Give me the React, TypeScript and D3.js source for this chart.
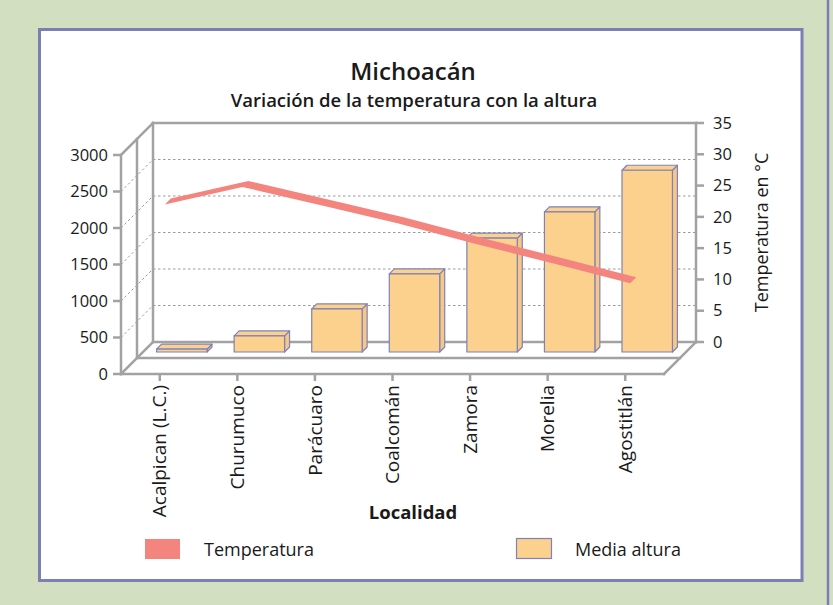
import * as d3 from 'd3'

const categories = ['Acalpican (L.C.)', 'Churumuco', 'Parácuaro', 'Coalcomán', 'Zamora', 'Morelia', 'Agostitlán']
const altura = [40, 220, 590, 1070, 1560, 1920, 2490]
const temperatura = [26.3, 29.1, 26.2, 23.3, 20.0, 16.9, 13.7]
const alturaTicks = [0, 500, 1000, 1500, 2000, 2500, 3000]
const tempTicks = [0, 5, 10, 15, 20, 25, 30, 35]

const FONT = '"Open Sans", "Noto Sans", sans-serif'
const AXIS = '#a2a2a2'
const BAR_FILL = '#fcd08d'
const BAR_STROKE = '#7f82b8'
const LINE_FILL = '#f4847e'
const BORDER = '#7b7fb3'

// front plane of the 3d box and how far back it goes
const left = 121
const right = 664
const bottom = 374
const top = 155
const depth = 32
const barDepth = 22
const barThick = 5
const lineDepth = 5
const lineThick = 6

const App = () => {
  const x = d3.scaleBand<string>().domain(categories).range([left, right])
  const yAlt = d3.scaleLinear().domain([0, 3000]).range([bottom, top])
  const yTemp = d3.scaleLinear().domain([0, 35]).range([bottom, top])
  const cx = (c: string) => (x(c) ?? 0) + x.bandwidth() / 2
  const barW = x.bandwidth() * 0.65
  const poly = d3.line()

  const bars = categories.map((c, i) => {
    const x0 = cx(c) - barW / 2 + barDepth
    const x1 = x0 + barW
    const yb = yAlt(0) - barDepth
    const yt = yAlt(altura[i]) - barDepth
    const t = barThick
    return (
      <g key={c} stroke={BAR_STROKE} strokeWidth={1.2} fill={BAR_FILL} strokeLinejoin="round">
        <path d={poly([[x1, yt], [x1 + t, yt - t], [x1 + t, yb - t], [x1, yb]])! + 'Z'} fill="#f7c785" />
        <path d={poly([[x0, yt], [x0 + t, yt - t], [x1 + t, yt - t], [x1, yt]])! + 'Z'} />
        <rect x={x0} y={yt} width={barW} height={yb - yt} />
      </g>
    )
  })

  // temperature drawn as a thin 3d ribbon
  const front = categories.map((c, i) => [cx(c) + lineDepth, yTemp(temperatura[i]) - lineDepth] as [number, number])
  const back = front.map(([a, b]) => [a + lineThick, b - lineThick] as [number, number])
  const ribbon = poly([...front, ...back.slice().reverse()])! + 'Z'

  const bx = left + depth
  const bxr = right + depth
  const mid = depth / 2

  return (
    <svg width={833} height={605} style={{ position: 'absolute', left: 0, top: 0 }} fontFamily={FONT}>
      <rect width={833} height={605} fill="#d3dfc1" />
      <rect x={39.5} y={29.5} width={762.5} height={551} fill="#fff" stroke={BORDER} strokeWidth={3} />
      <line x1={828} x2={828} y1={0} y2={605} stroke={BORDER} strokeWidth={2.5} />

      <text x={413} y={80} textAnchor="middle" fontSize={24} fontWeight={600} fill="#1a1a1a">Michoacán</text>
      <text x={414} y={107} textAnchor="middle" fontSize={18.5} fontWeight={600} fill="#1a1a1a">
        Variación de la temperatura con la altura
      </text>

      {/* dashed gridlines on back wall and side wall */}
      <g stroke="#9a9a9a" strokeWidth={1} strokeDasharray="2.5,2.5">
        {alturaTicks.filter((v) => v > 0 && v < 3000).map((v) => (
          <g key={v}>
            <line x1={bx} x2={bxr} y1={yAlt(v) - depth} y2={yAlt(v) - depth} />
            <line x1={left} x2={bx} y1={yAlt(v)} y2={yAlt(v) - depth} />
          </g>
        ))}
      </g>

      {/* box frame */}
      <g stroke={AXIS} strokeWidth={2.5} fill="none" strokeLinecap="square">
        <line x1={bx} x2={bxr} y1={yAlt(3000) - depth} y2={yAlt(3000) - depth} />
        <line x1={bx} x2={bx} y1={yAlt(3000) - depth} y2={yAlt(0) - depth} />
        <line x1={left + mid} x2={left + mid} y1={yAlt(3000) - mid} y2={yAlt(0) - mid} />
        <line x1={left} x2={left} y1={yAlt(3000)} y2={yAlt(0)} />
        <line x1={left} x2={bx} y1={yAlt(3000)} y2={yAlt(3000) - depth} />
        <line x1={left} x2={bx} y1={yAlt(0)} y2={yAlt(0) - depth} />
        <line x1={bx} x2={bxr} y1={yAlt(0) - depth} y2={yAlt(0) - depth} />
        <line x1={left + mid} x2={right + mid} y1={yAlt(0) - mid} y2={yAlt(0) - mid} />
        <line x1={left} x2={right} y1={yAlt(0)} y2={yAlt(0)} />
        <line x1={right} x2={bxr} y1={yAlt(0)} y2={yAlt(0) - depth} />
        <line x1={bxr} x2={bxr} y1={yTemp(35) - depth} y2={yTemp(0) - depth} />
      </g>

      {/* left axis */}
      <g>
        {alturaTicks.map((v) => (
          <g key={v} transform={`translate(${left},${yAlt(v)})`}>
            <line x1={-8} x2={0} stroke={AXIS} strokeWidth={2.5} />
            <text x={-13} dy="0.35em" textAnchor="end" fontSize={16.5} fill="#1a1a1a">{v}</text>
          </g>
        ))}
      </g>

      {/* right axis */}
      <g>
        {tempTicks.map((v) => (
          <g key={v} transform={`translate(${bxr},${yTemp(v) - depth})`}>
            <line x1={0} x2={8} stroke={AXIS} strokeWidth={2.5} />
            <text x={17} dy="0.35em" fontSize={16.5} fill="#1a1a1a">{v}</text>
          </g>
        ))}
        <text transform={`translate(768,${(yTemp(0) + yTemp(35)) / 2 - depth}) rotate(-90)`} textAnchor="middle"
          fontSize={18} fill="#1a1a1a">Temperatura en °C</text>
      </g>

      {/* category axis */}
      <g>
        {categories.map((c) => (
          <g key={c} transform={`translate(${cx(c)},${bottom})`}>
            <line y1={0} y2={7} stroke={AXIS} strokeWidth={2.5} />
            <text transform="translate(0,11) rotate(-90)" dy="0.35em" textAnchor="end" fontSize={19} fill="#1a1a1a">{c}</text>
          </g>
        ))}
        <text x={413} y={519} textAnchor="middle" fontSize={18.5} fontWeight={700} fill="#1a1a1a">Localidad</text>
      </g>

      {bars}
      <path d={ribbon} fill={LINE_FILL} />

      {/* legend */}
      <rect x={145} y={539} width={35} height={20} fill={LINE_FILL} />
      <text x={204} y={556} fontSize={18} fill="#1a1a1a">Temperatura</text>
      <rect x={516.5} y={538.5} width={35} height={20} fill={BAR_FILL} stroke={BAR_STROKE} strokeWidth={1.2} />
      <text x={575} y={556} fontSize={18} fill="#1a1a1a">Media altura</text>
    </svg>
  )
}

export default App
